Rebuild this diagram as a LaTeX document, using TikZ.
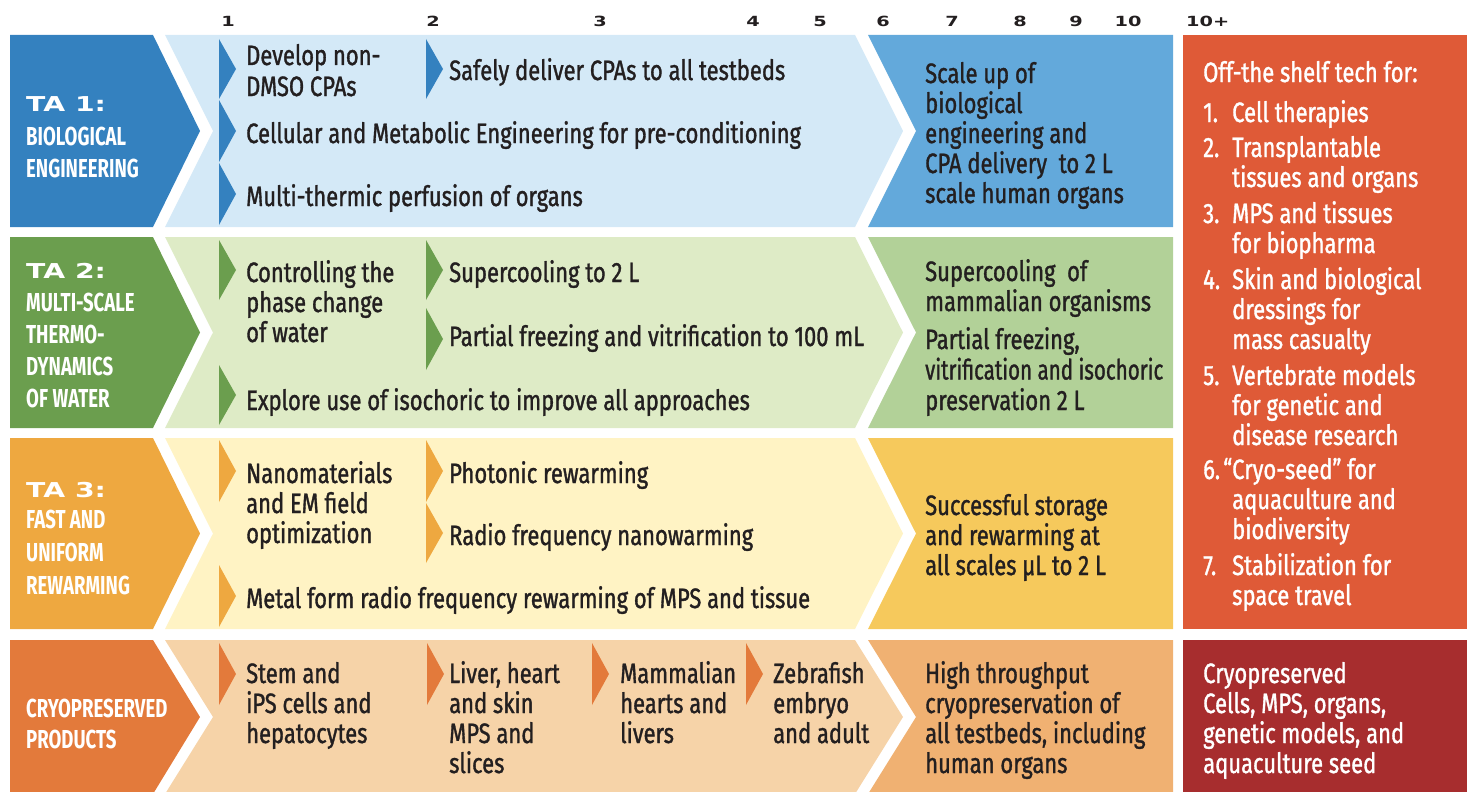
\documentclass[tikz,border=0pt]{standalone}
\usepackage{graphicx}
\usepackage{fontspec}
\setmainfont{Fira Sans}[FakeStretch=0.785, FakeBold=1.2]
\newfontfamily\capfont{Fira Sans}[FakeStretch=0.715]
\newfontfamily\headfont{DejaVu Sans}[FakeStretch=1.38]
\definecolor{ink}{HTML}{231F20}
\definecolor{blueL}{HTML}{3481BF}
\definecolor{blueB}{HTML}{D4E9F7}
\definecolor{blueX}{HTML}{63A9DB}
\definecolor{greenL}{HTML}{6B9E4E}
\definecolor{greenB}{HTML}{DEEBC6}
\definecolor{greenX}{HTML}{B2D198}
\definecolor{orL}{HTML}{EEA840}
\definecolor{orB}{HTML}{FFF3C4}
\definecolor{orX}{HTML}{F6C95C}
\definecolor{prL}{HTML}{E37A3B}
\definecolor{prB}{HTML}{F6D3A8}
\definecolor{prX}{HTML}{F0B172}
\definecolor{redX}{HTML}{DF5A37}
\definecolor{dredX}{HTML}{A72D2E}
\newcommand\textlines[6]{%
  \foreach \ln [count=\k from 0] in {#6} {
    \node[#2, anchor=base west] (#1-\k) at (#3, {#4+#5*\k}) {\ln};
  }}
\newcommand\mk[4]{\fill[#1] (#2,#3) -- ({#2+17},{(#3+#4)/2}) -- (#2,#4) -- cycle;}
\begin{document}
\begin{tikzpicture}[x=1pt,y=-1pt,
  txt/.style={font=\fontsize{28}{30}\selectfont, text=ink, inner sep=0pt},
  wtxt/.style={txt, text=white},
  capt/.style={font=\capfont\bfseries\fontsize{26}{30}\selectfont, text=white, inner sep=0pt},
  tahead/.style={font=\headfont\bfseries\fontsize{20.5}{22}\selectfont, text=white, inner sep=0pt, anchor=base west},
  yearnum/.style={font=\headfont\bfseries\fontsize{14}{14}\selectfont, text=ink, inner sep=0pt, anchor=base}]
\useasboundingbox (0,0) rectangle (1467,792);
% rows
\foreach \T/\C/\B/\cl/\cb/\cx in {35/131/227/blueL/blueB/blueX, 237/332.5/428/greenL/greenB/greenX, 438/533.5/629/orL/orB/orX, 640/717/794/prL/prB/prX}{
  \fill[\cl] (10,\T) -- (153,\T) -- (200,\C) -- (153,\B) -- (10,\B) -- cycle;
  \fill[\cb] (165,\T) -- (855,\T) -- (903,\C) -- (855,\B) -- (165,\B) -- (213,\C) -- cycle;
  \fill[\cx] (868,\T) -- (1173,\T) -- (1173,\B) -- (868,\B) -- (916,\C) -- cycle;
}
\fill[redX] (1183,35) rectangle (1467,629);
\fill[dredX] (1183,640) rectangle (1467,794);
% year numbers
\foreach \x/\n in {228/1, 433/2, 600/3, 753/4, 820/5, 883/6, 952/7, 1020/8, 1076/9, 1128/10}
  \node[yearnum] (yr-\n) at (\x,27) {\n};
\node[yearnum, anchor=base west] (yr-11) at (1186,27) {10+};
% markers
\mk{blueL}{219}{39}{99} \mk{blueL}{426}{39}{99} \mk{blueL}{219}{100}{162} \mk{blueL}{219}{163}{225}
\mk{greenL}{219}{240}{300} \mk{greenL}{426}{240}{300} \mk{greenL}{426}{308}{370} \mk{greenL}{219}{365}{425}
\mk{orL}{219}{440}{502} \mk{orL}{426}{440}{502} \mk{orL}{426}{503}{563} \mk{orL}{219}{565}{627}
\mk{prL}{219}{643}{705} \mk{prL}{427}{643}{705} \mk{prL}{592}{643}{705} \mk{prL}{746}{643}{705}
% left labels
\node[tahead] (ta1) at (26,111) {TA 1:};
\textlines{c1}{capt}{26}{145}{32}{BIOLOGICAL, ENGINEERING}
\node[tahead] (ta2) at (26,278) {TA 2:};
\textlines{c2}{capt}{26}{311}{32.3}{MULTI-SCALE, THERMO-, DYNAMICS, OF WATER}
\node[tahead] (ta3) at (26,497) {TA 3:};
\textlines{c3}{capt}{26}{528}{33}{FAST AND, UNIFORM, REWARMING}
\textlines{c4}{capt}{26}{717}{31}{CRYOPRESERVED, PRODUCTS}
% row 1
\textlines{r1a}{txt}{246}{65}{31}{Develop non-, DMSO CPAs}
\textlines{r1b}{txt}{449}{80}{30}{Safely deliver CPAs to all testbeds}
\textlines{r1c}{txt}{246}{143}{30}{Cellular and Metabolic Engineering for pre-conditioning}
\textlines{r1d}{txt}{246}{206}{30}{Multi-thermic perfusion of organs}
\textlines{r1e}{txt}{925}{83}{30}{Scale up of, biological, engineering and, CPA delivery~ to 2 L, scale human organs}
% row 2
\textlines{r2a}{txt}{246}{282}{30}{Controlling the, phase change, of water}
\textlines{r2b}{txt}{449}{282}{30}{Supercooling to 2 L}
\textlines{r2c}{txt}{449}{346}{30}{Partial freezing and vitrification to 100 mL}
\textlines{r2d}{txt}{246}{410}{30}{Explore use of isochoric to improve all approaches}
\textlines{r2e}{txt}{925}{281}{30}{Supercooling~ of, mammalian organisms}
\textlines{r2f}{txt}{925}{349}{30.5}{{Partial freezing,}, \scalebox{0.935}[1]{vitrification and isochoric}, preservation 2 L}
% row 3
\textlines{r3a}{txt}{246}{483}{30}{Nanomaterials, and EM field, optimization}
\textlines{r3b}{txt}{449}{483}{30}{Photonic rewarming}
\textlines{r3c}{txt}{449}{545}{30}{Radio frequency nanowarming}
\textlines{r3d}{txt}{246}{608}{30}{Metal form radio frequency rewarming of MPS and tissue}
\textlines{r3e}{txt}{925}{515}{30}{Successful storage, and rewarming at, all scales µL to 2 L}
% row 4
\textlines{r4a}{txt}{246}{683}{30}{Stem and, iPS cells and, hepatocytes}
\textlines{r4b}{txt}{449}{683}{30}{{Liver, heart}, and skin, MPS and, slices}
\textlines{r4c}{txt}{620}{683}{30}{Mammalian, hearts and, livers}
\textlines{r4d}{txt}{773}{683}{30}{Zebrafish, embryo, and adult}
\textlines{r4e}{txt}{925}{683}{30}{High throughput, cryopreservation of, {all testbeds, including}, human organs}
% red box
\textlines{g0}{wtxt}{1203}{82}{30}{Off-the shelf tech for:}
\foreach \n/\y in {1/122, 2/157, 3/223, 4/289, 5/385, 7/575}
  \node[wtxt, anchor=base west] (gn-\n) at (1203,\y) {\n.};
\node[wtxt, anchor=base west] (gn-6) at (1203,479) {6.};
\textlines{g1}{wtxt}{1232}{122}{30}{Cell therapies}
\textlines{g2}{wtxt}{1232}{157}{30}{Transplantable, tissues and organs}
\textlines{g3}{wtxt}{1232}{223}{30}{MPS and tissues, for biopharma}
\textlines{g4}{wtxt}{1232}{289}{30}{Skin and biological, dressings for, mass casualty}
\textlines{g5}{wtxt}{1232}{385}{30}{Vertebrate models, for genetic and, disease research}
\textlines{g6}{wtxt}{1232}{479}{30}{\llap{“}Cryo-seed” for, aquaculture and, biodiversity}
\textlines{g7}{wtxt}{1232}{575}{30}{Stabilization for, space travel}
\textlines{h0}{wtxt}{1203}{683}{30}{Cryopreserved, {Cells, MPS, organs,}, {genetic models, and}, aquaculture seed}
\end{tikzpicture}
\end{document}
